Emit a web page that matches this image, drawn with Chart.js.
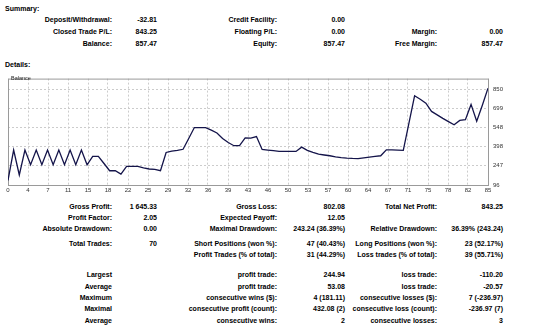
<!DOCTYPE html>
<html>
<head>
<meta charset="utf-8">
<script src="https://cdn.jsdelivr.net/npm/chart.js@4/dist/chart.umd.min.js"></script>
<style>
body{margin:0;background:#fff;width:537px;height:329px;overflow:hidden;font:bold 7px "Liberation Sans",Arial,sans-serif;color:#000}
.t{position:absolute;white-space:nowrap;line-height:9px}
#wrap{position:absolute;left:0;top:70px}
#cap{position:absolute;left:11px;top:75px;font:normal 5.5px "Liberation Sans",Arial,sans-serif;color:#222;line-height:7px}
</style>
</head>
<body>
<div id="text"></div>
<div id="wrap"><canvas id="balanceChart" width="537" height="130"></canvas></div>
<div id="cap">Balance</div>
<script>
// balance per trade
const balance = [
  132, 371, 175, 371, 255, 371, 255, 371, 255, 371,
  255, 371, 255, 371, 255, 321, 321, 265, 208, 208,
  182, 242, 242, 242, 230, 222, 219, 209, 352, 363,
  368, 377, 462, 548, 548, 548, 527, 505, 462, 430,
  405, 405, 466, 464, 477, 376, 371, 366, 360, 360,
  360, 360, 394, 368, 352, 338, 332, 326, 318, 312,
  308, 305, 303, 309, 315, 321, 326, 373, 373, 371,
  368, 583, 798, 770, 740, 675, 648, 620, 595, 570,
  604, 610, 730, 597, 723, 857
];
const xTickLabels = ['0','4','7','11','15','18','22','25','29','32','36','39','43','46','50','53','57','60','64','67','71','75','78','82','85'];
const yTickValues = [96, 247, 398, 548, 699, 850];

const summaryRows = [
  ['Deposit/Withdrawal:', '-32.81', 'Credit Facility:', '0.00', '', ''],
  ['Closed Trade P/L:', '843.25', 'Floating P/L:', '0.00', 'Margin:', '0.00'],
  ['Balance:', '857.47', 'Equity:', '857.47', 'Free Margin:', '857.47']
];
const detailRows = [
  ['Gross Profit:', '1 645.33', 'Gross Loss:', '802.08', 'Total Net Profit:', '843.25'],
  ['Profit Factor:', '2.05', 'Expected Payoff:', '12.05', '', ''],
  ['Absolute Drawdown:', '0.00', 'Maximal Drawdown:', '243.24 (36.39%)', 'Relative Drawdown:', '36.39% (243.24)'],
  ['Total Trades:', '70', 'Short Positions (won %):', '47 (40.43%)', 'Long Positions (won %):', '23 (52.17%)'],
  ['', '', 'Profit Trades (% of total):', '31 (44.29%)', 'Loss trades (% of total):', '39 (55.71%)'],
  ['Largest', '', 'profit trade:', '244.94', 'loss trade:', '-110.20'],
  ['Average', '', 'profit trade:', '53.08', 'loss trade:', '-20.57'],
  ['Maximum', '', 'consecutive wins ($):', '4 (181.11)', 'consecutive losses ($):', '7 (-236.97)'],
  ['Maximal', '', 'consecutive profit (count):', '432.08 (2)', 'consecutive loss (count):', '-236.97 (7)'],
  ['Average', '', 'consecutive wins:', '2', 'consecutive losses:', '3']
];

//text layout
const colRight = [112, 157, 277, 345, 437, 503];
const summaryTop = [15, 27, 39];
const detailTop = [202, 213, 224, 239, 250, 270, 282, 293, 304, 316];
const box = document.getElementById('text');

function addText(str, top, css) {
  const d = document.createElement('div');
  d.className = 't';
  d.textContent = str;
  d.style.cssText = 'top:' + top + 'px;' + css;
  box.appendChild(d);
}
addText('Summary:', 4, 'left:5px');
addText('Details:', 60, 'left:5px');
function addRows(rows, tops) {
  rows.forEach((row, r) => {
    row.forEach((cell, c) => {
      if (cell) addText(cell, tops[r], 'right:' + (537 - colRight[c]) + 'px');
    });
  });
}
addRows(summaryRows, summaryTop);
addRows(detailRows, detailTop);

//frame round the plot
const framePlugin = {
  id: 'frame',
  beforeDatasetsDraw(chart) {
    const a = chart.chartArea;
    const ctx = chart.ctx;
    ctx.save();
    ctx.strokeStyle = '#9a9a9a';
    ctx.lineWidth = 1;
    ctx.strokeRect(a.left + 0.5, a.top + 0.5, a.right - a.left, a.bottom - a.top);
    ctx.restore();
  }
};

const lastIdx = balance.length - 1;
const ctx = document.getElementById('balanceChart').getContext('2d');
const balanceChart = new Chart(ctx, {
  type: 'line',
  data: {
    datasets: [{
      data: balance.map((v, i) => ({ x: i, y: v })),
      borderColor: '#14144a',
      borderWidth: 1.3,
      pointRadius: 0,
      tension: 0,
      fill: false
    }]
  },
  options: {
    responsive: false,
    animation: false,
    layout: { padding: { left: 8, top: 4, right: 0, bottom: 0 } },
    plugins: { legend: { display: false }, tooltip: { enabled: false } },
    scales: {
      x: {
        type: 'linear',
        min: 0,
        max: lastIdx,
        afterBuildTicks: (scale) => {
          scale.ticks = xTickLabels.map((t, i) => ({ value: i * lastIdx / (xTickLabels.length - 1) }));
        },
        afterFit: (scale) => { scale.height = 15; },
        ticks: {
          autoSkip: false,
          maxRotation: 0,
          padding: 2,
          font: { family: 'Liberation Sans', size: 6 },
          color: '#333',
          callback: (v, i) => xTickLabels[i]
        },
        grid: { color: '#cccccc', drawTicks: false },
        border: { display: false, dash: [2, 2] }
      },
      y: {
        position: 'right',
        min: 96,
        max: 933,
        afterBuildTicks: (scale) => {
          scale.ticks = yTickValues.map(v => ({ value: v }));
        },
        afterFit: (scale) => { scale.width = 49; },
        ticks: {
          padding: 5,
          font: { family: 'Liberation Sans', size: 6 },
          color: '#333',
          callback: (v) => String(v)
        },
        grid: { color: '#cccccc', drawTicks: false },
        border: { display: false, dash: [2, 2] }
      }
    }
  },
  plugins: [framePlugin]
});
</script>
</body>
</html>
